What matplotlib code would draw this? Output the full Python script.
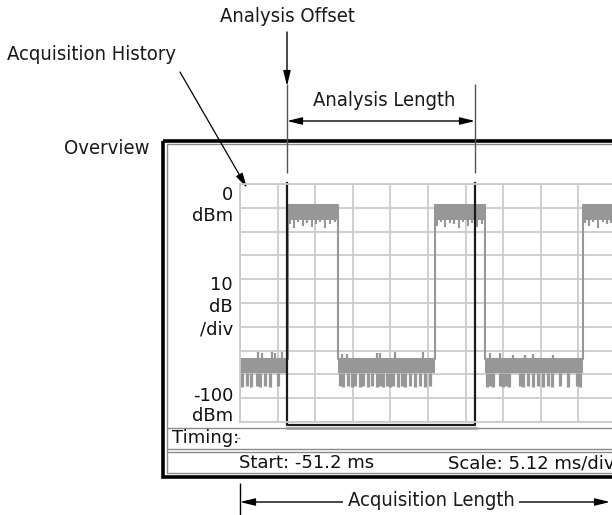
import numpy as np
import matplotlib.pyplot as plt
from matplotlib.patches import Rectangle
from matplotlib.transforms import blended_transform_factory

# sweep settings
start_ms = -51.2
scale_ms = 5.12
ref_dbm = 0
db_div = 10
analysis_offset = -44.8
analysis_length = 25.6

# pulse trace: segment edges (ms) and whether the segment is the "on" level
edges = [-51.2, -44.6, -37.8, -24.6, -17.8, -4.5, 0.0]
is_high = [False, True, False, True, False, True]
high_top, high_bot = -8.8, -15.0
low_top, low_bot = -73.5, -79.5

# noise spikes
high_dips_t = [-44.4, -43.9, -43.3, -42.6, -42.1, -41.4, -40.9, -40.3, -39.6, -38.9, -38.3,
               -24.4, -23.8, -23.3, -22.6, -22.1, -21.4, -20.8, -20.2, -19.6, -18.9, -18.3,
               -4.2, -3.7, -3.1, -2.5, -1.8, -1.2, -0.7]
high_dips_v = [-17.0, -18.5, -16.0, -17.5, -16.5, -18.0, -17.0, -16.0, -18.5, -17.0, -16.0,
               -17.5, -16.0, -18.0, -16.5, -17.0, -18.5, -16.0, -17.5, -16.5, -18.0, -17.0,
               -16.5, -17.5, -16.0, -18.5, -16.0, -17.0, -16.5]
low_dips_t = [-50.9, -50.3, -49.7, -48.9, -48.5, -47.8, -47.1, -46.0,
              -37.6, -37.2, -36.5, -36.0, -35.5, -34.9, -34.5, -33.8, -33.2, -32.5, -32.1,
              -31.7, -31.2, -30.8, -30.4, -29.7, -29.1, -28.7, -28.1, -27.4, -26.7, -26.0, -25.3,
              -17.6, -17.2, -16.8, -15.8, -15.4, -15.0, -14.6, -13.1, -12.7, -12.0, -11.3,
              -10.6, -9.9, -9.3, -8.7, -7.6, -6.5, -5.3, -4.9]
low_dips_v = [-85.5, -85.0, -85.5, -85.0, -85.5, -85.0, -85.5, -85.0,
              -85.0, -85.5, -85.0, -85.5, -85.0, -85.5, -85.0, -85.5, -85.0, -85.5, -85.0,
              -85.5, -85.0, -85.5, -85.0, -85.5, -85.0, -85.5, -85.0, -85.5, -85.0, -85.5, -85.0,
              -85.5, -85.0, -85.5, -85.0, -85.5, -85.0, -85.5, -85.0, -85.5, -85.0, -85.5,
              -85.0, -85.5, -85.0, -85.5, -85.0, -85.5, -85.0, -85.5]
low_peaks_t = [-48.8, -48.2, -46.8, -46.4, -45.5,
               -37.3, -36.6, -32.5, -32.1, -30.1, -26.3,
               -17.2, -15.8, -14.0, -12.4, -11.3, -8.6]
low_peaks_v = [-70.5, -71.0, -70.5, -71.0, -70.5,
               -71.5, -71.5, -71.0, -71.0, -70.5, -70.5,
               -71.0, -71.0, -72.0, -72.0, -71.5, -72.0]

trace = '#979797'
grid_c = '#cbcbcb'
note_font = ['DejaVu Sans']
screen_font = ['DejaVu Sans']

fig = plt.figure(figsize=(6.12, 5.15), dpi=100)

# overlay in pixel units for frame and callouts
ov = fig.add_axes([0, 0, 1, 1])
ov.set_xlim(0, 612)
ov.set_ylim(515, 0)
ov.axis('off')

# instrument overview window
ax = fig.add_axes([240 / 612, 93 / 515, 376 / 612, 238 / 515])
ax.set_xlim(start_ms, start_ms + 10 * scale_ms)
ax.set_ylim(ref_dbm - 10 * db_div, ref_dbm)
ax.set_xticks(start_ms + scale_ms * np.arange(11))
ax.set_yticks(ref_dbm - db_div * np.arange(11))
ax.grid(color=grid_c, lw=1.3)
ax.tick_params(length=0, labelbottom=False, labelleft=False)
for s in ax.spines.values():
    s.set_color(grid_c)
    s.set_linewidth(1.3)
ax.patch.set_alpha(0)
ax.set_axisbelow(True)

# trace
xs, ys = [], []
for i, h in enumerate(is_high):
    lvl = high_top if h else low_top
    xs += [edges[i], edges[i + 1]]
    ys += [lvl, lvl]
    if h:
        ax.fill_between([edges[i] + 0.1, edges[i + 1]], high_top, high_bot, color=trace, lw=0)
    else:
        ax.fill_between([edges[i], edges[i + 1]], low_top, low_bot, color=trace, lw=0)
ax.plot(xs, ys, color=trace, lw=1.5)
ax.vlines(high_dips_t, high_bot, high_dips_v, color=trace, lw=1.5)
ax.vlines(low_dips_t, low_bot, low_dips_v, color=trace, lw=2.3)
ax.vlines(low_peaks_t, low_top, low_peaks_v, color=trace, lw=1.6)

# analysis window
a0, a1 = analysis_offset, analysis_offset + analysis_length
ax.plot([a0, a1 + 0.15], [-102.7, -102.7], color='#9a9a9a', lw=1.8, clip_on=False)
ax.plot([a0, a0, a1, a1], [0.5, -101.3, -101.3, 0.5], color='#1a1a1a', lw=1.6, clip_on=False)

# frame of the display
ov.add_patch(Rectangle((163, 141), 520, 336, fill=False, ec='black', lw=2.6))
ov.add_patch(Rectangle((166.5, 144), 520, 329, fill=False, ec='#8a8a8a', lw=1.0))
ov.hlines([428], 166.5, 612, color='#8a8a8a', lw=1.0)
ov.hlines([449, 452], 166.5, 612, color='#8a8a8a', lw=1.0)

sf = dict(family=screen_font, fontsize=13, color='#111111')
ov.text(233, 195, '0', ha='right', va='center', **sf)
ov.text(233, 216, 'dBm', ha='right', va='center', **sf)
ov.text(233, 285, '10', ha='right', va='center', **sf)
ov.text(233, 307, 'dB', ha='right', va='center', **sf)
ov.text(233, 329, '/div', ha='right', va='center', **sf)
ov.text(233, 396, '-100', ha='right', va='center', **sf)
ov.text(233, 416, 'dBm', ha='right', va='center', **sf)
ov.text(172, 438, 'Timing:', ha='left', va='center', **sf)
ov.hlines([438], 236, 240, color='#999999', lw=1.0)
ov.text(239, 463, f'Start: {start_ms} ms', ha='left', va='center', **sf)
ov.text(448, 463, f'Scale: {scale_ms} ms/div', ha='left', va='center', **sf)

# callouts
nf = dict(family=note_font, fontstretch='condensed', fontsize=14.5, color='#1a1a1a')
bt = blended_transform_factory(ax.transData, ov.transData)
ov.vlines([a0, a1], 84, 173, color='#555555', lw=1.0, transform=bt)
ov.text(287, 16, 'Analysis Offset', ha='center', va='center', **nf)
ov.annotate('', xy=(a0, 86), xytext=(a0, 32), xycoords=bt, textcoords=bt,
            arrowprops=dict(arrowstyle='-|>,head_length=0.9,head_width=0.22', color='black',
                            lw=1.0, shrinkA=0, shrinkB=0))
ov.text(384, 100, 'Analysis Length', ha='center', va='center', **nf)
ov.annotate('', xy=(a1, 121), xytext=(a0, 121), xycoords=bt, textcoords=bt,
            arrowprops=dict(arrowstyle='<|-|>,head_length=0.9,head_width=0.22', color='black',
                            lw=1.0, shrinkA=0, shrinkB=0))
ov.text(92, 55, 'Acquisition History', ha='center', va='center', **nf)
ov.annotate('', xy=(247, 188), xytext=(180, 72),
            arrowprops=dict(arrowstyle='-|>,head_length=0.9,head_width=0.22', color='black',
                            lw=0.9, shrinkA=0, shrinkB=0))
ov.text(107, 148, 'Overview', ha='center', va='center', **nf)

ov.vlines([start_ms], 483, 515, color='black', lw=1.0, transform=bt)
ov.annotate('', xy=(610, 502), xytext=(start_ms, 502), xycoords=ov.transData, textcoords=bt,
            arrowprops=dict(arrowstyle='<|-|>,head_length=0.9,head_width=0.22', color='black',
                            lw=1.0, shrinkA=0, shrinkB=0))
ov.text(431, 500, 'Acquisition Length', ha='center', va='center',
        bbox=dict(fc='white', ec='none', pad=3), **nf)

fig.savefig('out.png', dpi=100)
